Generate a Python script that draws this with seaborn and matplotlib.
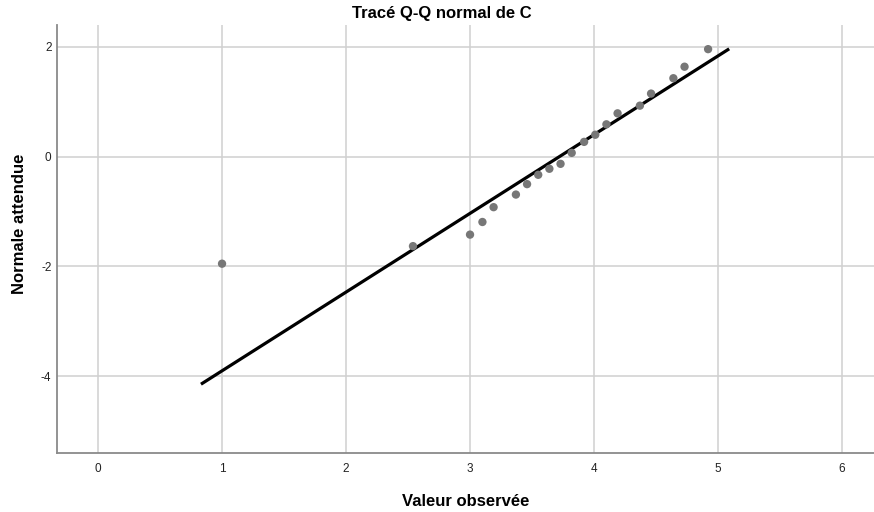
import numpy as np
import pandas as pd
import seaborn as sns
import matplotlib.pyplot as plt

observed = [1.00, 2.54, 3.00, 3.10, 3.19, 3.37, 3.46, 3.55, 3.64, 3.73,
            3.82, 3.92, 4.01, 4.10, 4.19, 4.37, 4.46, 4.64, 4.73, 4.92]
expected = [-1.95, -1.63, -1.42, -1.19, -0.92, -0.69, -0.50, -0.33, -0.22, -0.13,
            0.07, 0.27, 0.40, 0.59, 0.79, 0.93, 1.15, 1.43, 1.64, 1.96]

# reference line: mean / sd of the fitted normal, drawn over this x range
line_mean = 3.72
line_sd = 0.697
line_range = [0.83, 5.09]

x_ticks = [0, 1, 2, 3, 4, 5, 6]
y_ticks = [-4, -2, 0, 2]

sns.set_theme(style="whitegrid")
plt.rcParams['font.family'] = ['Liberation Sans', 'DejaVu Sans']
plt.rcParams['axes.unicode_minus'] = False

df = pd.DataFrame({'obs': observed, 'exp': expected})
lx = np.array(line_range)
line_df = pd.DataFrame({'x': lx, 'y': (lx - line_mean) / line_sd})

fig = plt.figure(figsize=(8.74, 5.12), dpi=100)
ax = fig.add_axes([57 / 874, 1 - 453 / 512, 1 - 57 / 874, (453 - 25) / 512])

sns.lineplot(data=line_df, x='x', y='y', color='black', linewidth=2.3, ax=ax,
             solid_capstyle='butt', zorder=3)
sns.scatterplot(data=df, x='obs', y='exp', color='#777777', s=36,
                edgecolor='none', ax=ax, zorder=4)

ax.set_xlim(-0.331, 6.258)
ax.set_ylim(-5.4, 2.4)
ax.set_xticks(x_ticks)
ax.set_yticks(y_ticks)
ax.grid(True, color='#d0d0d0', linewidth=1.1)
ax.set_axisbelow(True)
ax.tick_params(axis='both', length=0, labelsize=8.5, colors='#222222')
ax.tick_params(axis='x', pad=7)
ax.tick_params(axis='y', pad=4)

for side in ['top', 'right']:
    ax.spines[side].set_visible(False)
for side in ['left', 'bottom']:
    ax.spines[side].set_color('#8a8a8a')
    ax.spines[side].set_linewidth(1.3)

ax.set_xlabel('Valeur observée', fontsize=12, fontweight='bold', labelpad=14, color='black')
ax.set_ylabel('Normale attendue', fontsize=12, fontweight='bold', color='black')
ax.yaxis.set_label_coords(-0.037, 0.535)
fig.suptitle('Tracé Q-Q normal de C', x=0.505, y=0.988, fontsize=12, fontweight='bold',
             color='black')

fig.savefig('out.png', dpi=100)
